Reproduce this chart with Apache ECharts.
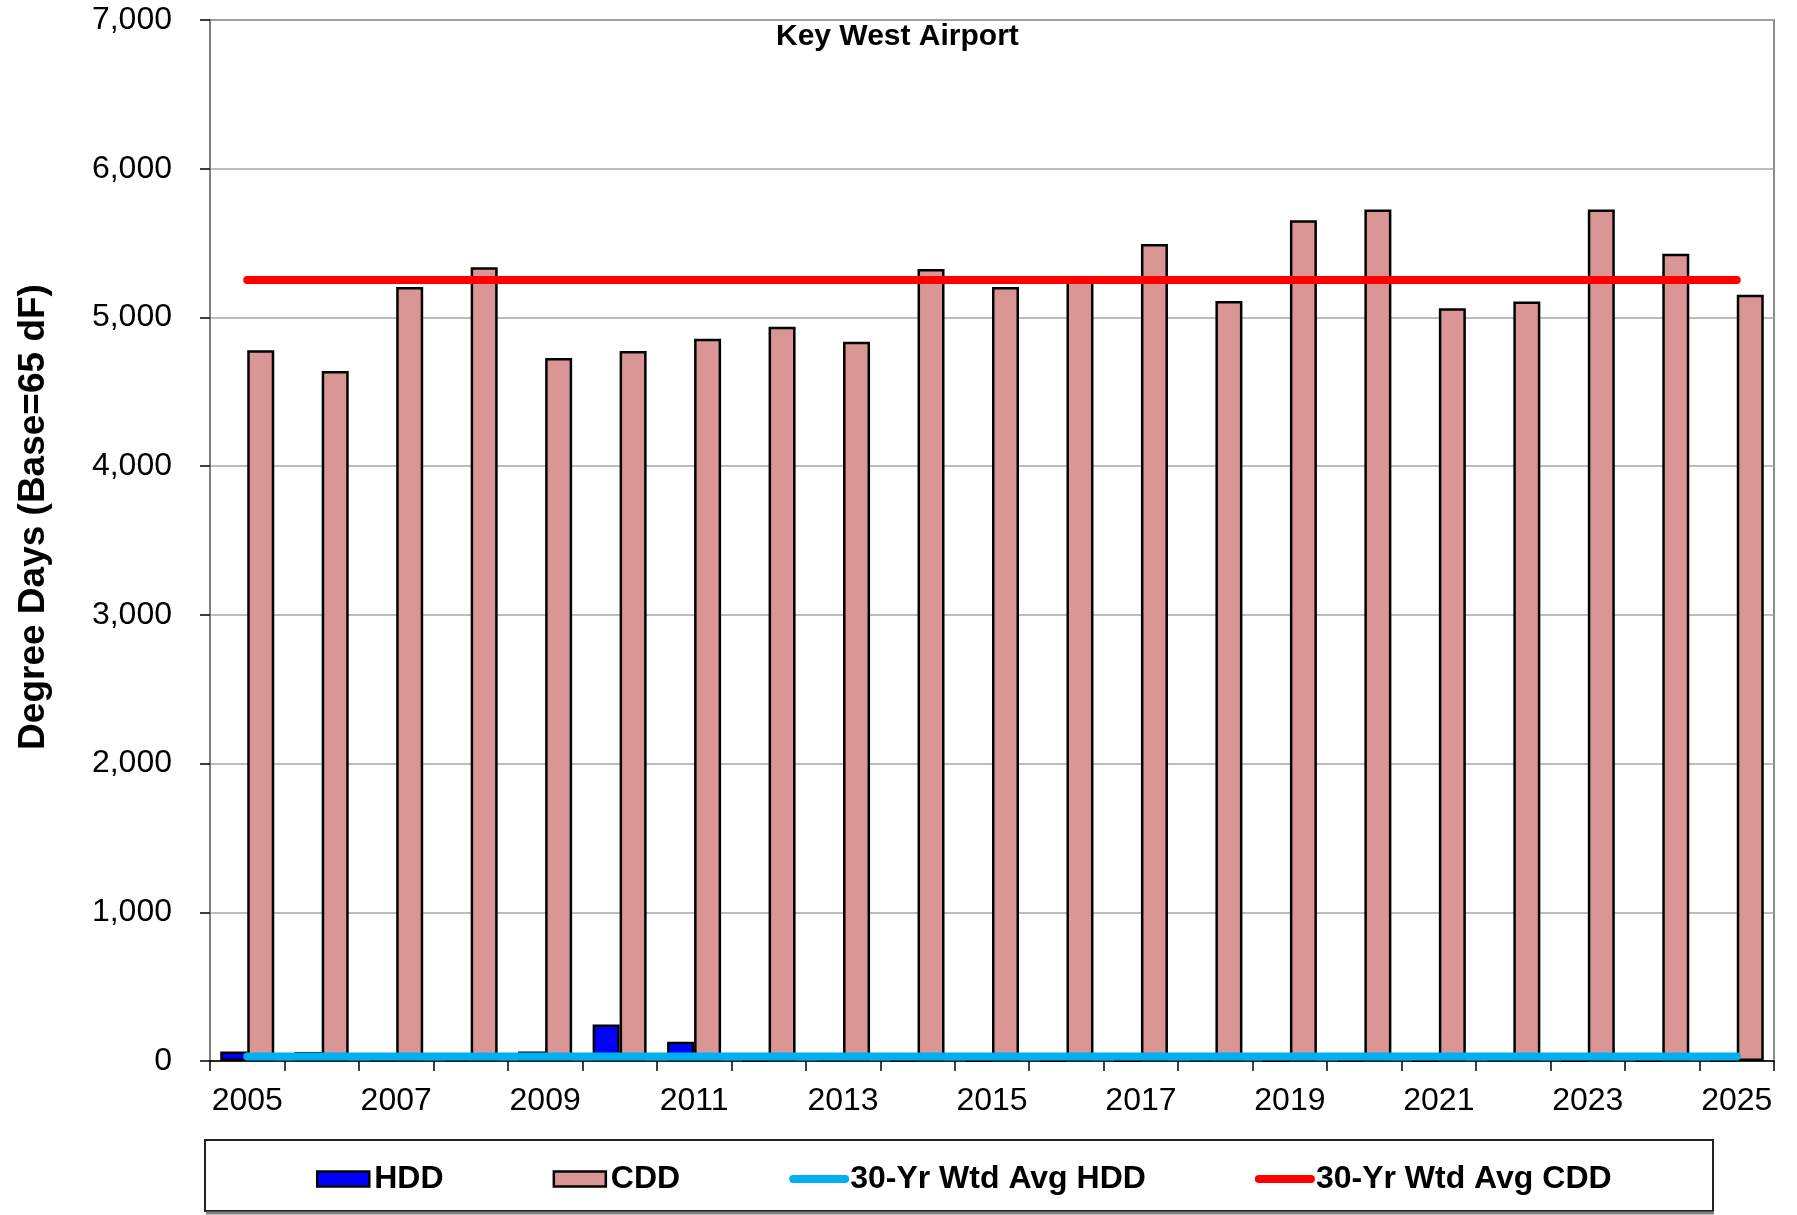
<!DOCTYPE html>
<html>
<head>
<meta charset="utf-8">
<script src="https://cdn.jsdelivr.net/npm/echarts@6/dist/echarts.min.js"></script>
<style>
  html, body { margin: 0; padding: 0; background: #fff; }
  #chart { width: 1797px; height: 1215px; }
</style>
</head>
<body>
<div id="chart"></div>
<script>
const years = ['2005','2006','2007','2008','2009','2010','2011','2012','2013','2014','2015',
               '2016','2017','2018','2019','2020','2021','2022','2023','2024','2025'];
const hdd = [64, 60, 12, 15, 64, 245, 130, 8, 12, 6, 4, 3, 2, 14, 3, 8, 5, 12, 2, 4, 8];
const cdd = [4780, 4640, 5205, 5338, 4728, 4775, 4856, 4937, 4836, 5326, 5205,
             5258, 5494, 5111, 5653, 5725, 5062, 5107, 5725, 5429, 5152];
const avgHdd = [30, 30, 30, 30, 30, 30, 30, 30, 30, 30, 30, 30, 30, 30, 30, 30, 30, 30, 30, 30, 30];
const avgCdd = [5251, 5251, 5251, 5251, 5251, 5251, 5251, 5251, 5251, 5251, 5251,
                5251, 5251, 5251, 5251, 5251, 5251, 5251, 5251, 5251, 5251];
const yTicks = [0, 1000, 2000, 3000, 4000, 5000, 6000, 7000];

const FONT = '"Liberation Sans", Arial, sans-serif';
const chart = echarts.init(document.getElementById('chart'), null, { renderer: 'canvas' });

chart.setOption({
  backgroundColor: '#ffffff',
  animation: false,
  textStyle: { fontFamily: FONT, color: '#000' },
  grid: {
    left: 210, right: 23, top: 20, bottom: 154,
    show: true, borderColor: '#8c8c8c', borderWidth: 2, backgroundColor: 'transparent'
  },
  xAxis: {
    type: 'category',
    data: years,
    boundaryGap: true,
    axisLine: { show: true, lineStyle: { color: '#000', width: 1.5 } },
    axisTick: { show: true, interval: 0, alignWithLabel: false, length: 10, lineStyle: { color: '#000', width: 1.5 } },
    axisLabel: { interval: 1, margin: 24, fontSize: 32, color: '#000', fontFamily: FONT },
    splitLine: { show: false }
  },
  yAxis: {
    type: 'value',
    min: yTicks[0],
    max: yTicks[yTicks.length - 1],
    interval: 1000,
    axisLine: { show: true, lineStyle: { color: '#7f7f7f', width: 2 } },
    axisTick: { show: true, inside: false, length: 10, lineStyle: { color: '#000', width: 1.5 } },
    axisLabel: {
      margin: 38, fontSize: 32, color: '#000', fontFamily: FONT,
      formatter: v => v.toLocaleString('en-US')
    },
    splitLine: { show: true, lineStyle: { color: '#a6a6a6', width: 1.5 } }
  },
  legend: {
    left: 316, top: 1163, padding: 0,
    itemWidth: 52, itemHeight: 15, itemGap: 109,
    textStyle: { fontSize: 32, fontWeight: 'bold', color: '#000', fontFamily: FONT },
    itemStyle: { borderColor: '#000', borderWidth: 2.5 },
    lineStyle: { width: 8, cap: 'round' },
    data: [
      { name: 'HDD', icon: 'rect' },
      { name: 'CDD', icon: 'rect' },
      { name: '30-Yr Wtd Avg HDD', itemStyle: { opacity: 0, borderWidth: 0 } },
      { name: '30-Yr Wtd Avg CDD', itemStyle: { opacity: 0, borderWidth: 0 } }
    ]
  },
  graphic: [
    {
      type: 'rect', z: 0,
      shape: { x: 205, y: 1140, width: 1508, height: 71 },
      style: { fill: 'none', stroke: '#222', lineWidth: 2 }
    },
    {
      type: 'line', z: 0,
      shape: { x1: 206, y1: 1213, x2: 1714, y2: 1213 },
      style: { stroke: '#808080', lineWidth: 3 }
    },
    {
      type: 'text',
      left: 776, top: 22,
      style: { text: 'Key West Airport', font: 'bold 30px ' + FONT, fill: '#000' }
    },
    {
      type: 'text',
      x: 34, y: 517, rotation: Math.PI / 2,
      style: {
        text: 'Degree Days (Base=65 dF)', font: 'bold 37px ' + FONT, fill: '#000',
        align: 'center', verticalAlign: 'middle'
      }
    }
  ],
  series: [
    {
      name: 'HDD', type: 'bar', data: hdd,
      barWidth: 27, barGap: '0%',
      itemStyle: { color: '#0000ff', borderColor: '#000', borderWidth: 2.5 }
    },
    {
      name: 'CDD', type: 'bar', data: cdd,
      barWidth: 27, barGap: '0%',
      itemStyle: { color: '#d99694', borderColor: '#000', borderWidth: 2.5 }
    },
    {
      name: '30-Yr Wtd Avg HDD', type: 'line', data: avgHdd,
      symbol: 'none', color: '#00b0f0',
      lineStyle: { color: '#00b0f0', width: 8, cap: 'round' }
    },
    {
      name: '30-Yr Wtd Avg CDD', type: 'line', data: avgCdd,
      symbol: 'none', color: '#ff0000',
      lineStyle: { color: '#ff0000', width: 8, cap: 'round' }
    }
  ]
});
</script>
</body>
</html>
